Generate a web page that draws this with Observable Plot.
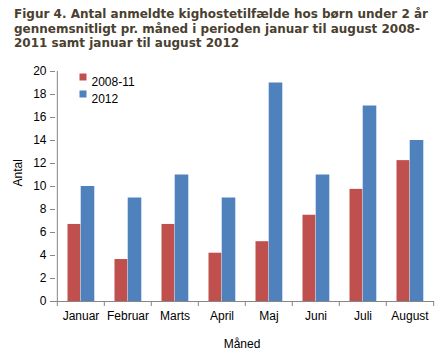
<!DOCTYPE html>
<html>
<head>
<meta charset="utf-8">
<script src="https://cdn.jsdelivr.net/npm/d3@7"></script>
<script src="https://cdn.jsdelivr.net/npm/@observablehq/plot@0.6"></script>
<style>
  html, body { margin: 0; padding: 0; background: white; }
  #wrap { width: 440px; height: 359px; position: relative; overflow: hidden; }
  #title { box-sizing: border-box; height: 58px; padding: 7px 0 0 14px;
    font-family: "DejaVu Sans", Verdana, sans-serif; font-weight: bold; font-size: 12px;
    line-height: 14.5px; color: #4a3f30; white-space: nowrap; }
  svg { display: block; }
</style>
</head>
<body>
<div id="wrap">
  <div id="title">Figur 4. Antal anmeldte kighostetilfælde hos børn under 2 år<br>gennemsnitligt pr. måned i perioden januar til august 2008-<br>2011 samt januar til august 2012</div>
</div>
<script>
const months = ["Januar", "Februar", "Marts", "April", "Maj", "Juni", "Juli", "August"];
const series = ["2008-11", "2012"];
const v0811 = [6.7, 3.65, 6.7, 4.2, 5.2, 7.5, 9.75, 12.25];
const v2012 = [10, 9, 11, 9, 19, 11, 17, 14];
const yTicks = [0, 2, 4, 6, 8, 10, 12, 14, 16, 18, 20];
const colors = ["#C0504D", "#4F81BD"];

const rows0811 = months.map((m, i) => ({month: m, value: v0811[i]}));
const rows2012 = months.map((m, i) => ({month: m, value: v2012[i]}));

const axisColor = "#868686";
const half = (440 - 55 - 6) / months.length / 2;

const chart = Plot.plot({
  width: 440,
  height: 301,
  marginTop: 13,
  marginBottom: 58,
  marginLeft: 55,
  marginRight: 6,
  style: {fontFamily: "'Liberation Sans', Arial, sans-serif", fontSize: "12px", color: "black", background: "white"},
  x: {domain: months, padding: 0, label: null},
  y: {domain: [0, 20], label: null},
  marks: [
    Plot.barY(rows0811, {x: "month", y: "value", fill: colors[0], insetLeft: 10.5, insetRight: 23.7}),
    Plot.barY(rows2012, {x: "month", y: "value", fill: colors[1], insetLeft: 23.7, insetRight: 9.7}),
    Plot.ruleY([0], {stroke: axisColor}),
    Plot.ruleX([months[0]], {dx: -half, y1: 0, y2: 20, stroke: axisColor}),
    Plot.axisY({ticks: yTicks, tickSize: 5, tickPadding: 4, stroke: axisColor, fill: "black", label: null}),
    Plot.axisX({tickSize: 0, tickPadding: 10, fill: "black", label: null}),
    Plot.axisX({tickSize: 5, dx: -half, stroke: axisColor, tickFormat: () => "", label: null}),
    Plot.axisX({ticks: [months[months.length - 1]], tickSize: 5, dx: half, stroke: axisColor, tickFormat: () => "", label: null}),
    Plot.text(["Antal"], {frameAnchor: "left", dx: -37, rotate: -90, fill: "black"}),
    Plot.text(["Måned"], {frameAnchor: "bottom", dy: 46, dx: -3, fill: "black"}),
    Plot.dot([series[0]], {frameAnchor: "top-left", dx: 27.5, dy: 5.5, symbol: "square", r: 3.95, fill: colors[0], stroke: null}),
    Plot.dot([series[1]], {frameAnchor: "top-left", dx: 27.5, dy: 22.5, symbol: "square", r: 3.95, fill: colors[1], stroke: null}),
    Plot.text([series[0]], {frameAnchor: "top-left", dx: 36, dy: 6, textAnchor: "start", fill: "black"}),
    Plot.text([series[1]], {frameAnchor: "top-left", dx: 36, dy: 23, textAnchor: "start", fill: "black"})
  ]
});
document.getElementById("wrap").appendChild(chart);
</script>
</body>
</html>
